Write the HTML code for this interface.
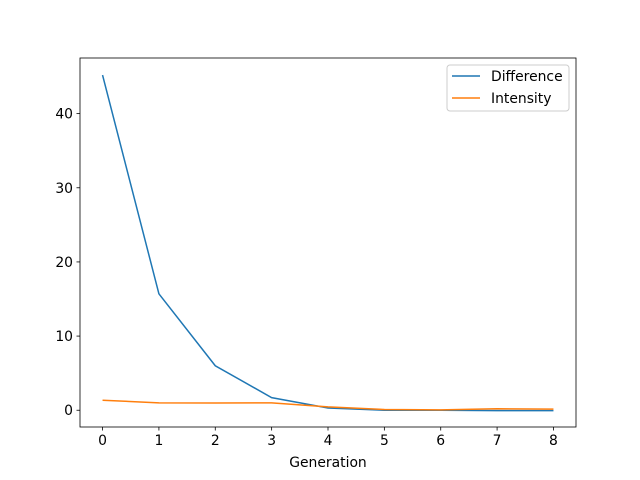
<!DOCTYPE html>
<html><head><meta charset="utf-8"><style>body{margin:0;background:#fff}svg{display:block;font-family:"DejaVu Sans","Liberation Sans",sans-serif}</style></head>
<body>
<svg id="chart" width="640" height="480" viewBox="0 0 640 480"></svg>
<script>
const generations=[0,1,2,3,4,5,6,7,8];
const differenceValues=[45.2,15.7,6.0,1.7,0.3,0.0,0.0,-0.05,-0.05];
const intensityValues=[1.35,1.0,0.97,1.0,0.45,0.1,0.05,0.2,0.15];
const xTicks=[0,1,2,3,4,5,6,7,8];
const yTicks=[0,10,20,30,40];
const NS="http://www.w3.org/2000/svg";
const svg=document.getElementById('chart');
const L=80,R=576,T=58,B=427;
const xMin=-0.4,xMax=8.4,yMin=-2.26,yMax=47.5;
function sx(v){return L+(v-xMin)/(xMax-xMin)*(R-L);}
function sy(v){return B-(v-yMin)/(yMax-yMin)*(B-T);}
function el(tag,attrs,parent){const e=document.createElementNS(NS,tag);for(const k in attrs)e.setAttribute(k,attrs[k]);(parent||svg).appendChild(e);return e;}
xTicks.forEach(t=>{
 const g=el('g',{});
 
 
 el('line',{x1:sx(t),x2:sx(t),y1:B,y2:B+3.5,stroke:'#000','stroke-width':0.8},g);
 const tx=el('text',{x:sx(t),y:B+18,'font-size':'13.9','text-anchor':'middle'},g);tx.textContent=t;
});
yTicks.forEach(t=>{
 const g=el('g',{});
 
 
 el('line',{x1:L-3.5,x2:L,y1:sy(t),y2:sy(t),stroke:'#000','stroke-width':0.8},g);
 const tx=el('text',{x:L-7,y:sy(t)+5,'font-size':'13.9','text-anchor':'end'},g);tx.textContent=t;
});
function series(vals,color,name){
 const p=el('polyline',{points:vals.map((v,i)=>sx(generations[i])+','+sy(v)).join(' '),fill:'none',stroke:color,'stroke-width':1.5});
 
 
}
series(differenceValues,'#1f77b4','difference-line');
series(intensityValues,'#ff7f0e','intensity-line');
const frame=el('rect',{x:L,y:T,width:R-L,height:B-T,fill:'none',stroke:'#000','stroke-width':0.8});


const xl=el('text',{x:(L+R)/2,y:467,'font-size':'13.9','text-anchor':'middle'});
xl.textContent='Generation';


const lg=el('g',{});


el('rect',{x:447,y:65,width:122,height:46,rx:3,fill:'#fff',stroke:'#ccc','stroke-width':1},lg);
[['Difference','#1f77b4',76],['Intensity','#ff7f0e',98]].forEach(([n,c,y])=>{
 const g=el('g',{},lg);
 
 
 el('line',{x1:452,x2:480,y1:y,y2:y,stroke:c,'stroke-width':1.5},g);
 const t=el('text',{x:491,y:y+5,'font-size':'13.9'},g);t.textContent=n;
});
</script>
</body></html>
